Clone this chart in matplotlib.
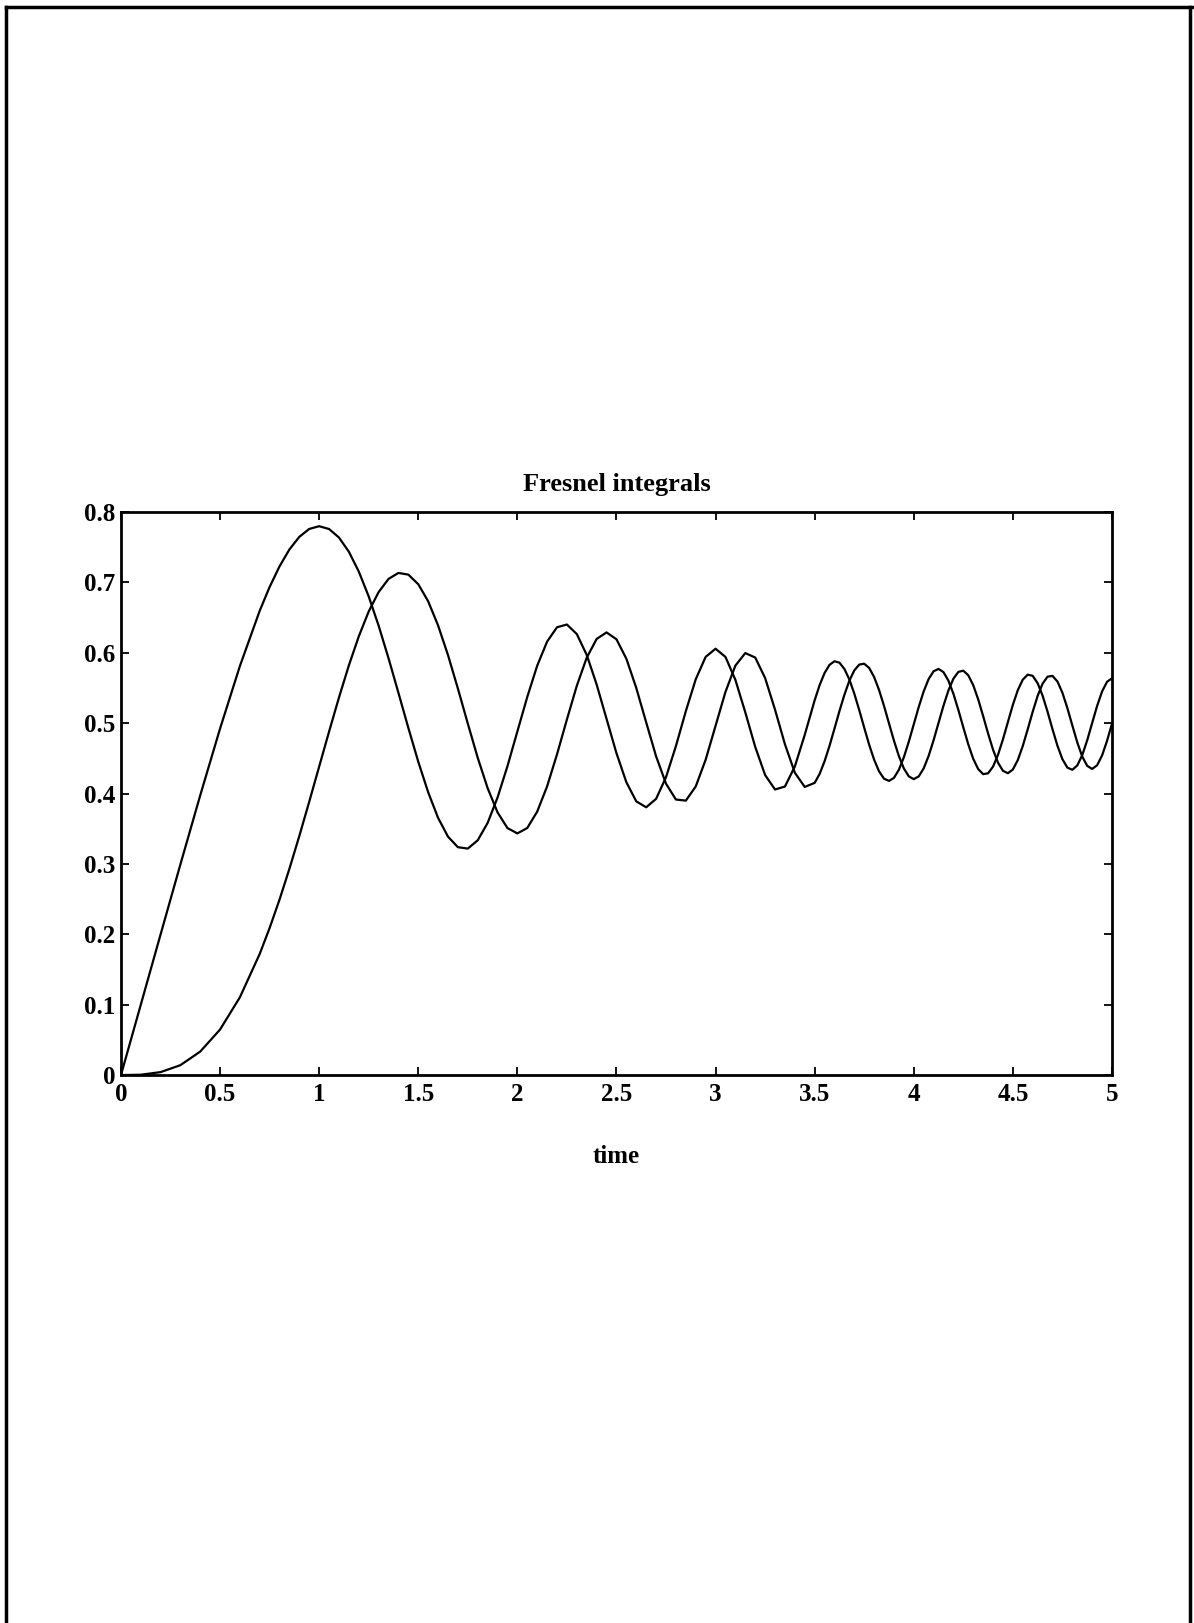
import matplotlib
matplotlib.use('Agg')
import matplotlib.pyplot as plt
from matplotlib.lines import Line2D

# tiempo (eje x) y las dos integrales de Fresnel
tiempo = [0.0, 0.1, 0.2, 0.3, 0.4, 0.5, 0.6, 0.7, 0.75, 0.8, 0.85, 0.9, 0.95,
          1.0, 1.05, 1.1, 1.15, 1.2, 1.25, 1.3, 1.35, 1.4, 1.45, 1.5, 1.55,
          1.6, 1.65, 1.7, 1.75, 1.8, 1.85, 1.9, 1.95, 2.0,
          2.05, 2.1, 2.15, 2.2, 2.25, 2.3, 2.35, 2.4, 2.45, 2.5, 2.55, 2.6,
          2.65, 2.7, 2.75, 2.8, 2.85, 2.9, 2.95, 3.0, 3.05, 3.1, 3.15, 3.2,
          3.25, 3.3, 3.35, 3.4, 3.45, 3.5,
          3.525, 3.55, 3.575, 3.6, 3.625, 3.65, 3.675, 3.7, 3.725, 3.75,
          3.775, 3.8, 3.825, 3.85, 3.875, 3.9, 3.925, 3.95, 3.975, 4.0,
          4.025, 4.05, 4.075, 4.1, 4.125, 4.15, 4.175, 4.2, 4.225, 4.25,
          4.275, 4.3, 4.325, 4.35, 4.375, 4.4, 4.425, 4.45, 4.475, 4.5,
          4.525, 4.55, 4.575, 4.6, 4.625, 4.65, 4.675, 4.7, 4.725, 4.75,
          4.775, 4.8, 4.825, 4.85, 4.875, 4.9, 4.925, 4.95, 4.975, 5.0]

fresnel_c = [0.0, 0.0999, 0.1999, 0.2994, 0.3975, 0.4923, 0.5811, 0.6597, 0.6935, 0.7228, 0.7469, 0.7648, 0.7760,
             0.7799, 0.7759, 0.7638, 0.7436, 0.7154, 0.6801, 0.6386, 0.5923, 0.5431, 0.4933, 0.4453, 0.4019,
             0.3655, 0.3388, 0.3238, 0.3218, 0.3336, 0.3583, 0.3944, 0.4389, 0.4882,
             0.5373, 0.5816, 0.6159, 0.6363, 0.6402, 0.6266, 0.5970, 0.5550, 0.5061, 0.4574, 0.4161, 0.3889,
             0.3805, 0.3925, 0.4233, 0.4675, 0.5171, 0.5624, 0.5942, 0.6058, 0.5941, 0.5616, 0.5154, 0.4664,
             0.4263, 0.4058, 0.4100, 0.4385, 0.4835, 0.5326,
             0.5541, 0.5713, 0.5829, 0.5880, 0.5860, 0.5771, 0.5621, 0.5420, 0.5185, 0.4936,
             0.4694, 0.4481, 0.4315, 0.4211, 0.4180, 0.4223, 0.4339, 0.4516, 0.4738, 0.4984,
             0.5230, 0.5452, 0.5627, 0.5738, 0.5771, 0.5725, 0.5603, 0.5418, 0.5188, 0.4940,
             0.4700, 0.4494, 0.4348, 0.4276, 0.4288, 0.4383, 0.4551, 0.4771, 0.5017, 0.5261,
             0.5470, 0.5619, 0.5690, 0.5673, 0.5568, 0.5391, 0.5163, 0.4914, 0.4679, 0.4488,
             0.4369, 0.4338, 0.4400, 0.4546, 0.4757, 0.5002, 0.5245, 0.5450, 0.5588, 0.5637]

fresnel_s = [0.0, 0.0005, 0.0042, 0.0141, 0.0334, 0.0647, 0.1105, 0.1721, 0.2089, 0.2493, 0.2932, 0.3398, 0.3885,
             0.4383, 0.4880, 0.5365, 0.5822, 0.6234, 0.6587, 0.6863, 0.7050, 0.7135, 0.7111, 0.6975, 0.6732,
             0.6389, 0.5968, 0.5492, 0.4994, 0.4509, 0.4077, 0.3733, 0.3510, 0.3434,
             0.3511, 0.3743, 0.4102, 0.4557, 0.5053, 0.5532, 0.5931, 0.6197, 0.6290, 0.6192, 0.5916, 0.5500,
             0.5011, 0.4529, 0.4140, 0.3915, 0.3900, 0.4101, 0.4481, 0.4963, 0.5445, 0.5818, 0.5996, 0.5933,
             0.5642, 0.5192, 0.4701, 0.4296, 0.4094, 0.4152,
             0.4279, 0.4459, 0.4679, 0.4923, 0.5172, 0.5404, 0.5603, 0.5750, 0.5833, 0.5845,
             0.5785, 0.5656, 0.5471, 0.5244, 0.4997, 0.4752, 0.4532, 0.4357, 0.4244, 0.4205,
             0.4244, 0.4358, 0.4535, 0.4758, 0.5005, 0.5249, 0.5466, 0.5632, 0.5729, 0.5746,
             0.5681, 0.5540, 0.5339, 0.5101, 0.4853, 0.4623, 0.4439, 0.4323, 0.4289, 0.4342,
             0.4477, 0.4676, 0.4914, 0.5162, 0.5388, 0.5562, 0.5661, 0.5672, 0.5592, 0.5432,
             0.5214, 0.4968, 0.4727, 0.4526, 0.4394, 0.4350, 0.4402, 0.4541, 0.4748, 0.4992]

# marcas de los ejes
xticks = [0, 0.5, 1, 1.5, 2, 2.5, 3, 3.5, 4, 4.5, 5]
xlabels = ['0', '0.5', '1', '1.5', '2', '2.5', '3', '3.5', '4', '4.5', '5']
yticks = [0, 0.1, 0.2, 0.3, 0.4, 0.5, 0.6, 0.7, 0.8]
ylabels = ['0', '0.1', '0.2', '0.3', '0.4', '0.5', '0.6', '0.7', '0.8']

plt.rcParams['font.family'] = ['Liberation Serif', 'DejaVu Serif']

fig = plt.figure(figsize=(11.94, 16.23), dpi=100)
ax = fig.add_axes([0.1013, 0.3376, 0.8300, 0.3469])

ax.plot(tiempo, fresnel_c, color='black', lw=1.6)
ax.plot(tiempo, fresnel_s, color='black', lw=1.6)

ax.set_xlim(0, 5)
ax.set_ylim(0, 0.8)
ax.set_xticks(xticks)
ax.set_xticklabels(xlabels, fontsize=18, fontweight='bold')
ax.set_yticks(yticks)
ax.set_yticklabels(ylabels, fontsize=18, fontweight='bold')
ax.tick_params(direction='in', top=True, right=True, length=6, width=1.3)
ax.tick_params(axis='x', pad=6)
ax.tick_params(axis='y', pad=4)
for sp in ax.spines.values():
    sp.set_linewidth(2)

ax.set_title('Fresnel integrals', fontsize=19, fontweight='bold', pad=15)
ax.set_xlabel('time', fontsize=18, fontweight='bold', labelpad=28)

# marco de la pagina escaneada
W, H = 1194, 1623
fig.add_artist(Line2D([6 / W, 6 / W], [0, 1 - 7 / H], transform=fig.transFigure, color='black', lw=2.5))
fig.add_artist(Line2D([6 / W, 1], [1 - 7 / H, 1 - 7 / H], transform=fig.transFigure, color='black', lw=2.5))
fig.add_artist(Line2D([1190 / W, 1190 / W], [0, 1 - 7 / H], transform=fig.transFigure, color='black', lw=2.5))

fig.savefig('out.png', dpi=100)
